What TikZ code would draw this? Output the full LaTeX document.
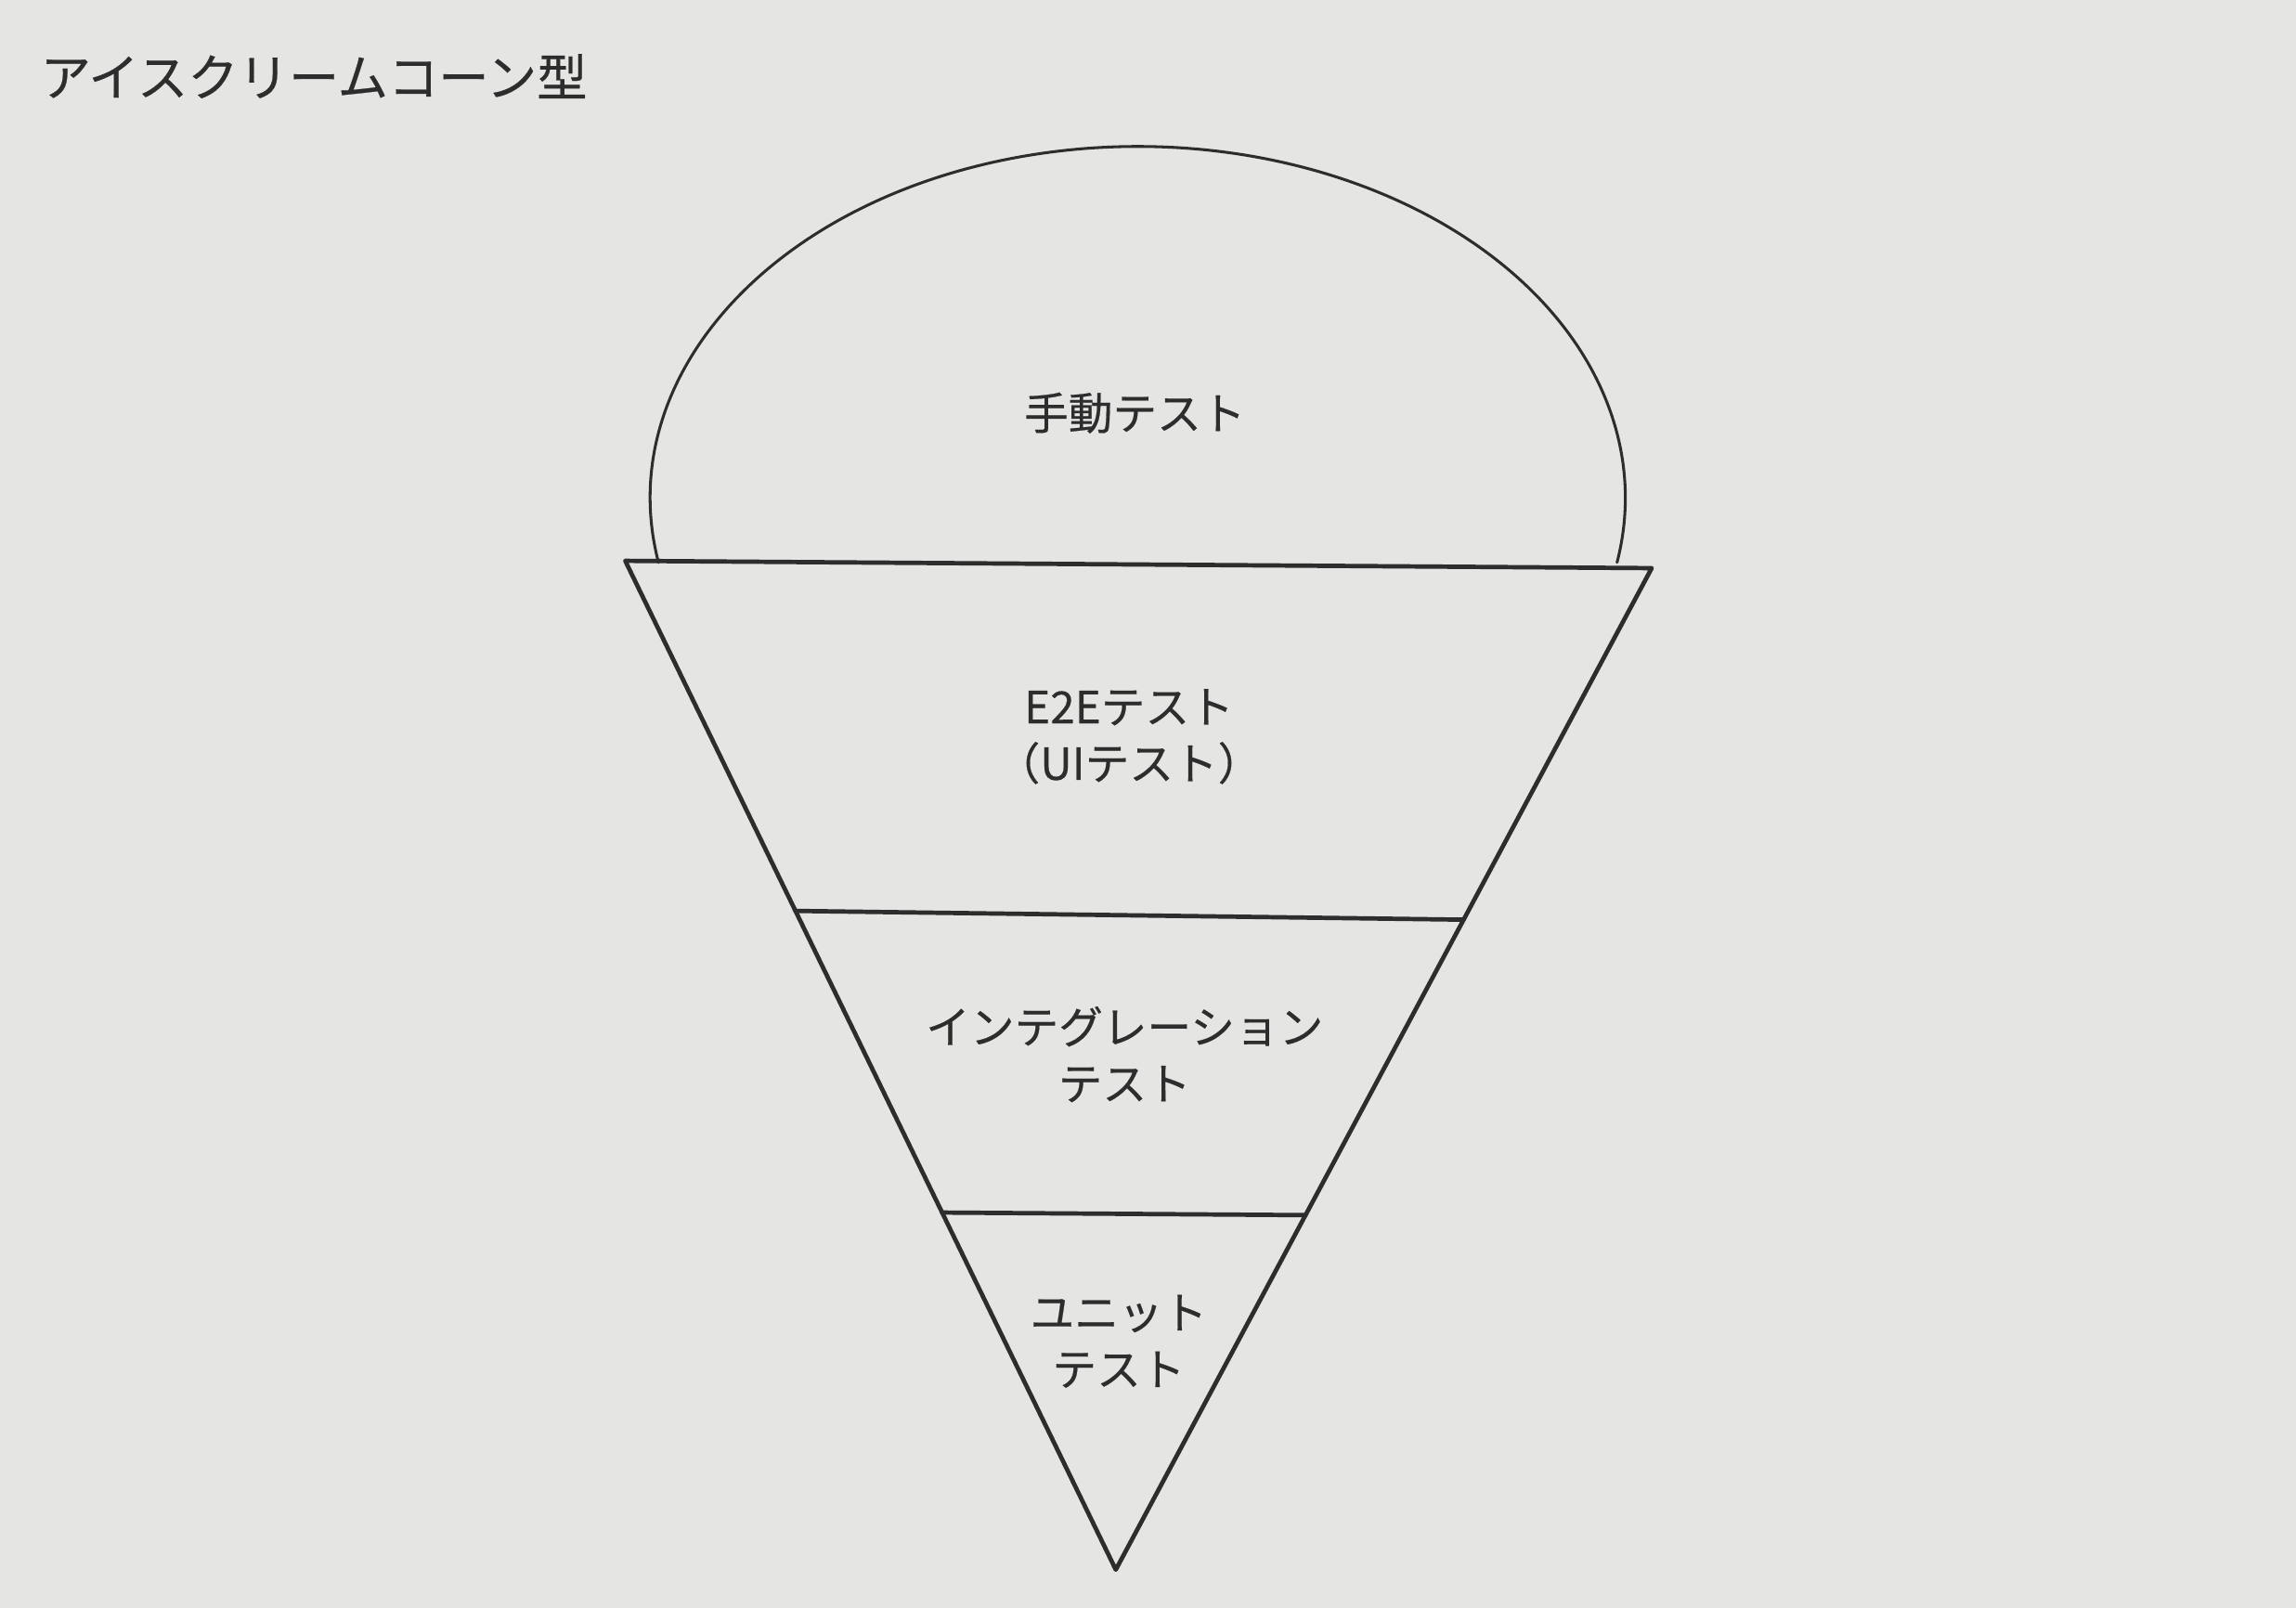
\documentclass[tikz,border=0pt]{standalone}
\usepackage{fontspec}
\setmainfont{Noto Sans CJK JP}[FakeBold=0.4]
\usetikzlibrary{calc}

\definecolor{paperGray}{RGB}{229,229,227}
\definecolor{inkGray}{RGB}{45,45,45}

\begin{document}
\begin{tikzpicture}[x=0.1mm, y=-0.1mm, line cap=round, line join=round]

% ---------- styles (safe names) ----------
\tikzset{
  coneEdge/.style  ={draw=inkGray, line width=0.85pt},
  scoopEdge/.style ={draw=inkGray, line width=0.55pt},
  layerText/.style ={text=inkGray, font=\fontsize{8.6pt}{11pt}\selectfont, align=center, inner sep=0pt},
  titleText/.style ={text=inkGray, font=\fontsize{9.8pt}{12pt}\selectfont, anchor=west, inner sep=0pt}
}

% ---------- page ----------
\fill[paperGray] (0,0) rectangle (1568,1098);
\useasboundingbox (0,0) rectangle (1568,1098);

\node[titleText] (coneTitle) at (27,52) {アイスクリームコーン型};

% ---------- cone corners ----------
\coordinate (coneTL)   at (427,383);
\coordinate (coneTR)   at (1128,388);
\coordinate (coneTip)  at (762,1072);

% Layer dividers on the two slanted sides
\coordinate (upperL) at ($(coneTL)!0.347!(coneTip)$);
\coordinate (upperR) at ($(coneTR)!0.351!(coneTip)$);
\coordinate (lowerL) at ($(coneTL)!0.646!(coneTip)$);
\coordinate (lowerR) at ($(coneTR)!0.646!(coneTip)$);

% ---------- scoop (ellipse cut by the rim) ----------
\coordinate (scoopCtr) at (777,340);
\path[scoopEdge] ($(scoopCtr)+(169.4:333 and 240)$)
  arc[start angle=169.4, end angle=370.6, x radius=333, y radius=240];

% ---------- cone ----------
\path[coneEdge] (coneTL) -- (coneTR) -- (coneTip) -- cycle;
\draw[coneEdge] (upperL) -- (upperR);
\draw[coneEdge] (lowerL) -- (lowerR);

% ---------- labels ----------
\node[layerText] (manualTest) at (775,282) {手動テスト};
\node[layerText] (e2eTest)    at (771,503) {E2Eテスト\\（UIテスト）};
\node[layerText] (integTest)  at (768,720) {インテグレーション\\テスト};
\node[layerText] (unitTest)   at (764,916) {ユニット\\テスト};

\end{tikzpicture}
\end{document}
